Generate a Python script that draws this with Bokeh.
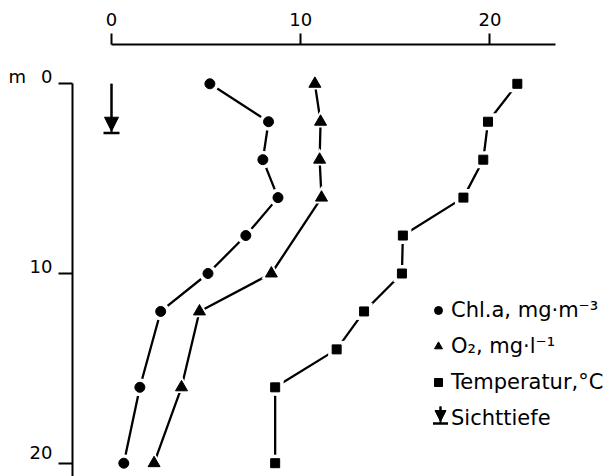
from bokeh.plotting import figure
from bokeh.models import (Range1d, FixedTicker, Arrow, NormalHead, TeeHead,
                          Legend, LegendItem, ColumnDataSource)
from bokeh.embed import file_html
from bokeh.resources import INLINE

# ---------------- data ----------------
chl_depth = [0, 2, 4, 6, 8, 10, 12, 16, 20]
chl_value = [5.2, 8.3, 8.0, 8.8, 7.1, 5.1, 2.6, 1.5, 0.65]
o2_depth = [0, 2, 4, 6, 10, 12, 16, 20]
o2_value = [10.75, 11.05, 11.0, 11.1, 8.45, 4.65, 3.7, 2.25]
temp_depth = [0, 2, 4, 6, 8, 10, 12, 14, 16, 20]
temp_value = [21.45, 19.9, 19.65, 18.6, 15.4, 15.35, 13.35, 11.9, 8.65, 8.65]
secchi_x = [0]
secchi_depth = [2.6]
x_ticks = [0, 10, 20]
y_ticks = [0, 10, 20]
y_tick_labels = ["m\u00a0\u00a0\u20090", "10", "20"]
legend_labels = ["Chl.a, mg·m⁻³", "O₂, mg·l⁻¹", "Temperatur,°C", "Sichttiefe"]

FONT = "DejaVu Sans"

# pixel -> data helpers (layout only)
def px2x(px):
    return (px - 111.0) / 18.92

def px2y(py):
    return (py - 83.3) / 18.97

p = figure(width=616, height=476,
           x_range=Range1d(px2x(72), px2x(616)),
           y_range=Range1d(px2y(476), px2y(44)),
           x_axis_location="above", output_backend="svg", toolbar_location=None,
           min_border_left=72, min_border_right=0, min_border_top=44, min_border_bottom=0)
p.outline_line_color = None
p.xgrid.visible = False
p.ygrid.visible = False
p.background_fill_color = "white"
p.border_fill_color = "white"

xa = p.xaxis[0]
xa.ticker = FixedTicker(ticks=x_ticks)
xa.bounds = (0, 23.47)
xa.major_tick_out = 11
xa.major_tick_in = 0
xa.minor_tick_out = 0
xa.minor_tick_in = 0
xa.axis_line_width = 2
xa.major_tick_line_width = 2
xa.major_label_text_font = FONT
xa.major_label_text_font_size = "18px"
xa.major_label_text_color = "black"
xa.major_label_standoff = 8

ya = p.yaxis[0]
ya.ticker = FixedTicker(ticks=y_ticks)
ya.bounds = (0, px2y(476))
ya.major_tick_out = 14
ya.major_tick_in = 0
ya.minor_tick_out = 0
ya.minor_tick_in = 0
ya.axis_line_width = 2
ya.major_tick_line_width = 2
ya.major_label_text_font = FONT
ya.major_label_text_font_size = "18px"
ya.major_label_text_color = "black"
ya.major_label_standoff = 6
ya.major_label_text_line_height = 0.65
ya.major_label_overrides = {t: s + "\n" for t, s in zip(y_ticks, y_tick_labels)}

# ---------------- series ----------------
series = [
    (chl_value, chl_depth, "circle", 10),
    (o2_value, o2_depth, "triangle", 12),
    (temp_value, temp_depth, "square", 9),
]
marker_renderers = []
for vals, depths, marker, size in series:
    p.line(vals, depths, line_color="black", line_width=2.3)
for vals, depths, marker, size in series:
    p.scatter(vals, depths, marker=marker, size=size + 8, fill_color="white", line_color=None)
for vals, depths, marker, size in series:
    r = p.scatter(vals, depths, marker=marker, size=size, fill_color="black", line_color="black")
    marker_renderers.append(r)

# Secchi depth arrow
src = ColumnDataSource(dict(x=secchi_x, y0=[0] * len(secchi_x), y1=secchi_depth,
                            tip=[d - 0.1 for d in secchi_depth]))
p.add_layout(Arrow(x_start="x", y_start="y0", x_end="x", y_end="y1", source=src,
                   end=TeeHead(size=16, line_width=2.5, line_color="black"),
                   line_width=2, line_color="black"))
p.add_layout(Arrow(x_start="x", y_start="y0", x_end="x", y_end="tip", source=src,
                   end=NormalHead(size=14, fill_color="black", line_color="black"),
                   line_width=2, line_color="black"))

# ---------------- legend ----------------
dummy = p.scatter(x=[], y=[], fill_alpha=0, line_alpha=0)
items = [LegendItem(label=legend_labels[i], renderers=[marker_renderers[i]]) for i in range(3)]
items.append(LegendItem(label=legend_labels[3], renderers=[dummy]))
legend = Legend(items=items, location=(356, 46), glyph_width=20, glyph_height=20,
                spacing=12, padding=0, margin=0, label_standoff=3,
                label_text_font=FONT, label_text_font_size="21px",
                label_text_color="black", border_line_color=None,
                background_fill_alpha=0)
p.add_layout(legend)

# legend symbol for Secchi depth
p.add_layout(Arrow(x_start=px2x(440), y_start=px2y(406), x_end=px2x(440), y_end=px2y(423),
                   end=TeeHead(size=15, line_width=2.5, line_color="black"),
                   line_width=2, line_color="black"))
p.add_layout(Arrow(x_start=px2x(440), y_start=px2y(406), x_end=px2x(440), y_end=px2y(421),
                   end=NormalHead(size=11, fill_color="black", line_color="black"),
                   line_width=2, line_color="black"))

open("out.html", "w").write(file_html(p, INLINE))
